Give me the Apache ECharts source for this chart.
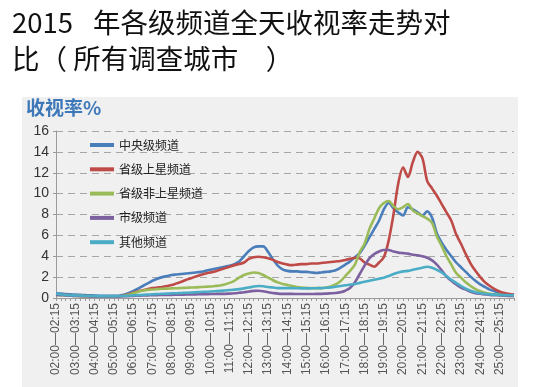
<!DOCTYPE html>
<html>
<head>
<meta charset="utf-8">
<script src="https://cdn.jsdelivr.net/npm/echarts@6/dist/echarts.min.js"></script>
<style>html,body{margin:0;padding:0;background:#fff;}#c{width:544px;height:387px;}</style>
</head>
<body>
<div id="c"></div>
<script>
var categories = [
"02:00—02:15","02:15—02:30","02:30—02:45","02:45—03:00",
"03:00—03:15","03:15—03:30","03:30—03:45","03:45—04:00",
"04:00—04:15","04:15—04:30","04:30—04:45","04:45—05:00",
"05:00—05:15","05:15—05:30","05:30—05:45","05:45—06:00",
"06:00—06:15","06:15—06:30","06:30—06:45","06:45—07:00",
"07:00—07:15","07:15—07:30","07:30—07:45","07:45—08:00",
"08:00—08:15","08:15—08:30","08:30—08:45","08:45—09:00",
"09:00—09:15","09:15—09:30","09:30—09:45","09:45—10:00",
"10:00—10:15","10:15—10:30","10:30—10:45","10:45—11:00",
"11:00—11:15","11:15—11:30","11:30—11:45","11:45—12:00",
"12:00—12:15","12:15—12:30","12:30—12:45","12:45—13:00",
"13:00—13:15","13:15—13:30","13:30—13:45","13:45—14:00",
"14:00—14:15","14:15—14:30","14:30—14:45","14:45—15:00",
"15:00—15:15","15:15—15:30","15:30—15:45","15:45—16:00",
"16:00—16:15","16:15—16:30","16:30—16:45","16:45—17:00",
"17:00—17:15","17:15—17:30","17:30—17:45","17:45—18:00",
"18:00—18:15","18:15—18:30","18:30—18:45","18:45—19:00",
"19:00—19:15","19:15—19:30","19:30—19:45","19:45—20:00",
"20:00—20:15","20:15—20:30","20:30—20:45","20:45—21:00",
"21:00—21:15","21:15—21:30","21:30—21:45","21:45—22:00",
"22:00—22:15","22:15—22:30","22:30—22:45","22:45—23:00",
"23:00—23:15","23:15—23:30","23:30—23:45","23:45—24:00",
"24:00—24:15","24:15—24:30","24:30—24:45","24:45—25:00",
"25:00—25:15","25:15—25:30","25:30—25:45","25:45—26:00"
];

var seriesNames = ["中央级频道","省级上星频道","省级非上星频道","市级频道","其他频道"];

var centralValues = [
0.45,0.42,0.38,0.35, 0.32,0.30,0.28,0.26, 0.24,0.22,0.21,0.20, 0.20,0.22,0.30,0.45,
0.65,0.90,1.15,1.40, 1.65,1.85,2.00,2.10, 2.20,2.25,2.30,2.35, 2.40,2.45,2.50,2.60,
2.70,2.80,2.90,3.00, 3.10,3.25,3.50,4.00, 4.50,4.85,4.95,4.95, 4.40,3.70,3.10,2.75,
2.60,2.55,2.55,2.50, 2.50,2.45,2.40,2.45, 2.50,2.55,2.65,2.90, 3.20,3.50,3.90,4.30,
5.00,5.80,6.60,7.40, 8.50,9.10,8.60,8.20, 7.90,8.70,8.50,8.20, 7.90,8.30,7.70,6.20,
5.30,4.60,4.00,3.40, 2.95,2.50,2.05,1.65, 1.30,1.05,0.80,0.65, 0.50,0.42,0.35,0.30
];
var provSatValues = [
0.35,0.32,0.30,0.27, 0.25,0.22,0.20,0.18, 0.17,0.16,0.15,0.15, 0.15,0.17,0.25,0.35,
0.50,0.65,0.75,0.85, 0.95,1.00,1.05,1.15, 1.25,1.40,1.55,1.75, 1.90,2.05,2.20,2.35,
2.45,2.55,2.70,2.85, 3.00,3.15,3.25,3.40, 3.75,3.90,3.95,3.90, 3.80,3.65,3.45,3.30,
3.20,3.15,3.20,3.25, 3.25,3.30,3.30,3.35, 3.40,3.45,3.50,3.55, 3.65,3.75,3.85,3.80,
3.40,3.20,3.00,3.40, 3.90,5.50,8.00,11.00, 12.50,11.60,13.00,14.00, 13.40,11.20,10.50,9.80,
9.00,8.20,7.40,6.10, 5.20,4.20,3.30,2.60, 2.00,1.50,1.15,0.85, 0.62,0.48,0.38,0.30
];
var provNonSatValues = [
0.30,0.28,0.25,0.22, 0.20,0.18,0.16,0.15, 0.14,0.13,0.13,0.13, 0.13,0.15,0.20,0.30,
0.45,0.60,0.70,0.78, 0.82,0.85,0.88,0.90, 0.92,0.94,0.96,0.98, 1.00,1.02,1.05,1.08,
1.10,1.15,1.20,1.30, 1.45,1.65,1.95,2.20, 2.35,2.45,2.40,2.20, 1.95,1.70,1.50,1.35,
1.25,1.15,1.05,1.00, 0.97,0.95,0.95,0.95, 1.00,1.10,1.30,1.60, 2.10,2.60,3.20,4.40,
5.20,6.60,7.60,8.60, 9.10,9.30,8.80,8.50, 8.70,9.00,8.40,8.10, 7.85,7.60,7.20,5.90,
5.00,4.00,3.20,2.40, 1.95,1.50,1.15,0.85, 0.65,0.50,0.40,0.35, 0.30,0.25,0.22,0.20
];
var cityValues = [
0.30,0.28,0.25,0.22, 0.20,0.18,0.17,0.16, 0.15,0.15,0.15,0.15, 0.15,0.16,0.17,0.18,
0.20,0.22,0.24,0.25, 0.27,0.28,0.29,0.30, 0.30,0.31,0.32,0.33, 0.34,0.35,0.36,0.37,
0.38,0.39,0.40,0.40, 0.42,0.45,0.50,0.55, 0.62,0.68,0.70,0.65, 0.55,0.48,0.42,0.40,
0.40,0.40,0.38,0.38, 0.38,0.38,0.40,0.40, 0.42,0.45,0.48,0.55, 0.70,0.95,1.50,2.30,
3.10,3.80,4.20,4.45, 4.60,4.60,4.45,4.35, 4.30,4.25,4.15,4.10, 4.00,3.85,3.60,3.20,
2.65,2.05,1.65,1.30, 1.00,0.80,0.60,0.45, 0.40,0.35,0.30,0.27, 0.25,0.22,0.20,0.20
];
var otherValues = [
0.40,0.35,0.30,0.27, 0.25,0.23,0.21,0.20, 0.19,0.18,0.18,0.18, 0.18,0.19,0.20,0.22,
0.25,0.28,0.30,0.33, 0.36,0.38,0.40,0.42, 0.44,0.46,0.48,0.50, 0.52,0.55,0.58,0.60,
0.62,0.65,0.68,0.72, 0.76,0.80,0.85,0.92, 1.00,1.10,1.15,1.12, 1.05,1.00,0.95,0.95,
0.95,0.95,0.93,0.92, 0.92,0.93,0.94,0.95, 0.98,1.02,1.08,1.15, 1.22,1.28,1.35,1.45,
1.55,1.65,1.75,1.85, 1.95,2.10,2.30,2.45, 2.55,2.60,2.70,2.80, 2.90,3.00,2.90,2.70,
2.45,2.10,1.75,1.45, 1.15,0.90,0.70,0.55, 0.45,0.40,0.35,0.32, 0.30,0.28,0.27,0.25
];

var yTicks = [0,2,4,6,8,10,12,14,16];
var colors = ["#4a7ebb","#be4b48","#9bbb59","#7d60a0","#4bacc6"];
var allValues = [centralValues, provSatValues, provNonSatValues, cityValues, otherValues];

var chart = echarts.init(document.getElementById('c'), null, {renderer: 'canvas'});

var series = seriesNames.map(function (n, k) {
  return {
    name: n,
    type: 'line',
    data: allValues[k],
    smooth: 0.3,
    symbol: 'none',
    lineStyle: {width: 2.6, color: colors[k]},
    itemStyle: {color: colors[k]}
  };
});

chart.setOption({
  animation: false,
  textStyle: {fontFamily: 'Noto Sans CJK SC'},
  graphic: [
    {type: 'rect', z: -100, silent: true, shape: {x: 22, y: 97, width: 496, height: 290}, style: {fill: '#f0f0f0'}},
    {type: 'text', left: 12, top: 9, style: {text: '2015', fill: '#111', font: '27.5px "Noto Sans CJK SC"'}},
    {type: 'text', left: 93, top: 9, style: {text: '年各级频道全天收视率走势对', fill: '#111', font: '27.5px "Noto Sans CJK SC"'}},
    {type: 'text', left: 12, top: 45, style: {text: '比（ 所有调查城市　）', fill: '#111', font: '27.5px "Noto Sans CJK SC"'}},
    {type: 'text', left: 26, top: 98, style: {text: '收视率%', fill: '#3d78b8', font: 'bold 19px "Noto Sans CJK SC"'}}
  ],
  grid: {left: 56, right: 30, top: 131, bottom: 89, containLabel: false},
  legend: {
    orient: 'vertical',
    left: 90,
    top: 138,
    padding: 0,
    icon: 'rect',
    itemWidth: 24,
    itemHeight: 4,
    itemGap: 10.3,
    data: seriesNames,
    textStyle: {fontSize: 12, color: '#222', lineHeight: 14, fontFamily: 'Noto Sans CJK SC'}
  },
  xAxis: {
    type: 'category',
    data: categories,
    boundaryGap: false,
    axisLine: {lineStyle: {color: '#9a9a9a', width: 1}},
    axisTick: {show: true, interval: 0, length: 3, inside: false, lineStyle: {color: '#9a9a9a'}},
    axisLabel: {interval: 3, rotate: 90, fontSize: 12, color: '#555', margin: 5, fontFamily: 'Liberation Sans'},
    splitLine: {show: false}
  },
  yAxis: {
    type: 'value',
    min: yTicks[0],
    max: yTicks[yTicks.length - 1],
    interval: 2,
    axisLine: {show: true, lineStyle: {color: '#9a9a9a'}},
    axisTick: {show: true, length: 3, lineStyle: {color: '#9a9a9a'}},
    axisLabel: {fontSize: 14, color: '#333', margin: 7, fontFamily: 'Liberation Sans'},
    splitLine: {show: true, lineStyle: {type: [7, 5], color: '#a6a6a6', width: 1}}
  },
  series: series
});
</script>
</body>
</html>
